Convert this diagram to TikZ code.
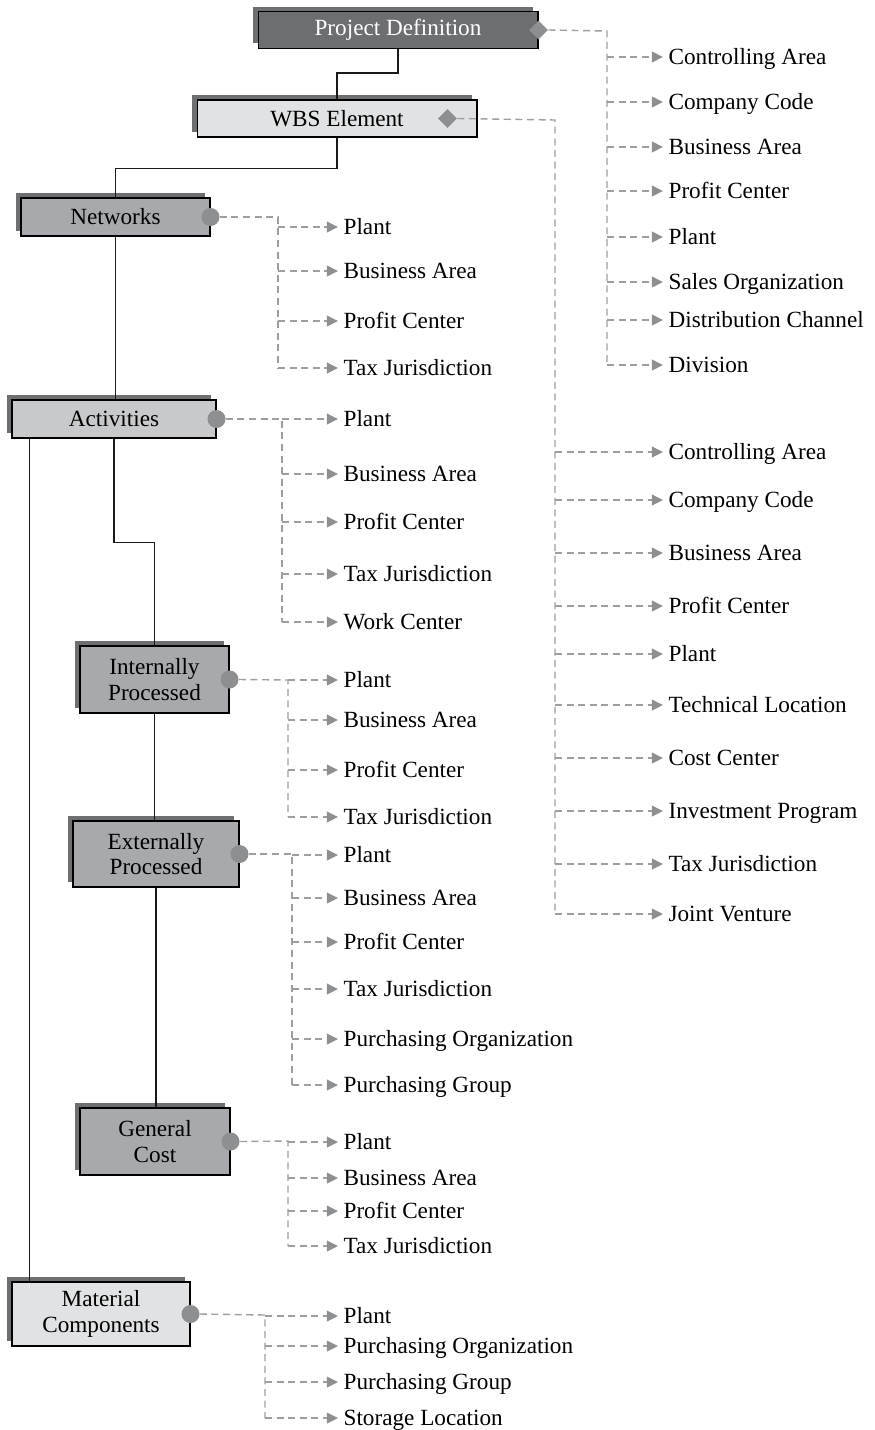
\documentclass[tikz,border=0pt]{standalone}
\usepackage{fontspec}
\setmainfont{Liberation Serif}
\usetikzlibrary{shapes.geometric, arrows.meta, shadows}
\usepackage{xcolor}

\definecolor{grigioscuro}{HTML}{6D6E71}
\definecolor{grigiomedio}{HTML}{A7A9AC}
\definecolor{grigiotenue}{HTML}{C8C9CB}
\definecolor{grigiochiaro}{HTML}{E1E2E3}
\definecolor{grigioombra}{HTML}{6E6F71}
\definecolor{grigiopunto}{HTML}{8E8F91}
\definecolor{grigiotratto}{HTML}{9D9EA0}

\begin{document}
\begin{tikzpicture}[
  x=0.02cm, y=-0.02cm,
  font=\fontsize{13.2}{14.5}\selectfont,
  linea/.style={draw=black!90, line width=0.6pt},
  tratt/.style={draw=grigiotratto, line width=0.8pt, dash pattern=on 4pt off 2.6pt},
  freccia/.style={tratt, -{Triangle[length=6.4pt,width=6.2pt,color=grigiopunto]}},
  voce/.style={anchor=west, inner xsep=3pt, inner ysep=1pt, text height=10pt, text depth=2pt},
  scatola/.style={draw=black, line width=0.6pt, align=center, inner sep=0pt,
                  general shadow={fill=grigioombra, shadow xshift=-0.1cm, shadow yshift=0.1cm}},
  pallino/.style={circle, fill=grigiopunto, inner sep=0pt, minimum size=0.36cm},
  rombo/.style={diamond, fill=grigiopunto, inner sep=0pt, minimum size=0.38cm}
]
\useasboundingbox (0,0) rectangle (875,1430);

% ---- riquadri della struttura ---------------------------------------
\node[scatola, fill=grigioscuro, text=white, minimum width=5.6cm, minimum height=0.74cm]
     (pd) at (398,30) {Project Definition};
\node[scatola, fill=grigiochiaro, minimum width=5.6cm, minimum height=0.74cm]
     (wbs) at (337,118.5) {WBS Element};
\node[scatola, fill=grigiomedio, minimum width=3.78cm, minimum height=0.76cm]
     (net) at (115.5,217) {Networks};
\node[scatola, fill=grigiotenue, minimum width=4.08cm, minimum height=0.76cm]
     (act) at (114,419) {Activities};
\node[scatola, fill=grigiomedio, minimum width=2.98cm, minimum height=1.34cm]
     (int) at (154.5,679.5) {Internally\\Processed};
\node[scatola, fill=grigiomedio, minimum width=3.32cm, minimum height=1.32cm]
     (ext) at (156,854) {Externally\\Processed};
\node[scatola, fill=grigiomedio, minimum width=3.0cm, minimum height=1.34cm]
     (gen) at (155,1141.5) {General\\Cost};
\node[scatola, fill=grigiochiaro, minimum width=3.56cm, minimum height=1.28cm]
     (mat) at (101,1314) {Material\\Components};

% ---- collegamenti gerarchici ------------------------------------------
\draw[linea] (pd.south) -- ++(0,24) -| (wbs.north);
\draw[linea] (wbs.south) -- ++(0,31) -| (net.north);
\draw[linea] (net.south) -- (net.south |- act.north);
\draw[linea] (act.south) -- ++(0,104) -| (int.north);
\draw[linea] ([xshift=0.36cm]act.south west) -- ([xshift=0.36cm]act.south west |- mat.north);
\draw[linea] (int.south) -- (int.south |- ext.north);
\draw[linea] (ext.south) -- (ext.south |- gen.north);

% ---- Project Definition: oggetti di assegnazione --------------------
\node[rombo] (pd-p) at (pd.east) {};
\coordinate (pd-t) at (607,31);
\foreach \y/\t [count=\i] in {57/Controlling Area, 102/Company Code, 147/Business Area,
    191/Profit Center, 237/Plant, 282/Sales Organization, 320/Distribution Channel, 365/Division}
  \node[voce] (pd-\i) at (663,\y) {\t};
\draw[tratt] (pd-p.east) -- (pd-t) -- (pd-t |- pd-8.west);
\foreach \i in {1,...,8}
  \draw[freccia] (pd-t |- pd-\i.west) -- (pd-\i.west);

% ---- WBS Element ------------------------------------------------------
\node[rombo] (wbs-p) at ([xshift=-0.6cm]wbs.east) {};
\coordinate (wbs-t) at (555,120);
\foreach \y/\t [count=\i] in {452/Controlling Area, 500/Company Code, 553/Business Area,
    606/Profit Center, 654/Plant, 705/Technical Location, 758/Cost Center,
    811/Investment Program, 864/Tax Jurisdiction, 914/Joint Venture}
  \node[voce] (wbs-\i) at (663,\y) {\t};
\draw[tratt] (wbs-p.east) -- (wbs-t) -- (wbs-t |- wbs-10.west);
\foreach \i in {1,...,10}
  \draw[freccia] (wbs-t |- wbs-\i.west) -- (wbs-\i.west);

% ---- Networks -----------------------------------------------------------
\node[pallino] (net-p) at (net.east) {};
\coordinate (net-t) at (278,217);
\foreach \y/\t [count=\i] in {227/Plant, 271/Business Area, 321/Profit Center, 368/Tax Jurisdiction}
  \node[voce] (net-\i) at (338,\y) {\t};
\draw[tratt] (net-p.east) -- (net-t) -- (net-t |- net-4.west);
\foreach \i in {1,...,4}
  \draw[freccia] (net-t |- net-\i.west) -- (net-\i.west);

% ---- Activities ---------------------------------------------------------
\node[pallino] (act-p) at (act.east) {};
\coordinate (act-t) at (282,419);
\foreach \y/\t [count=\i] in {419/Plant, 474/Business Area, 522/Profit Center,
    574/Tax Jurisdiction, 622/Work Center}
  \node[voce] (act-\i) at (338,\y) {\t};
\draw[tratt] (act-p.east) -- (act-t) -- (act-t |- act-5.west);
\foreach \i in {1,...,5}
  \draw[freccia] (act-t |- act-\i.west) -- (act-\i.west);

% ---- Internally Processed -----------------------------------------------
\node[pallino] (int-p) at (int.east) {};
\coordinate (int-t) at (288,680);
\foreach \y/\t [count=\i] in {680/Plant, 720/Business Area, 770/Profit Center, 817/Tax Jurisdiction}
  \node[voce] (int-\i) at (338,\y) {\t};
\draw[tratt] (int-p.east) -- (int-t) -- (int-t |- int-4.west);
\foreach \i in {1,...,4}
  \draw[freccia] (int-t |- int-\i.west) -- (int-\i.west);

% ---- Externally Processed -----------------------------------------------
\node[pallino] (ext-p) at (ext.east) {};
\coordinate (ext-t) at (292,854);
\foreach \y/\t [count=\i] in {855/Plant, 898/Business Area, 942/Profit Center,
    989/Tax Jurisdiction, 1039/Purchasing Organization, 1085/Purchasing Group}
  \node[voce] (ext-\i) at (338,\y) {\t};
\draw[tratt] (ext-p.east) -- (ext-t) -- (ext-t |- ext-6.west);
\foreach \i in {1,...,6}
  \draw[freccia] (ext-t |- ext-\i.west) -- (ext-\i.west);

% ---- General Cost -------------------------------------------------------
\node[pallino] (gen-p) at (gen.east) {};
\coordinate (gen-t) at (288,1141);
\foreach \y/\t [count=\i] in {1142/Plant, 1178/Business Area, 1211/Profit Center, 1246/Tax Jurisdiction}
  \node[voce] (gen-\i) at (338,\y) {\t};
\draw[tratt] (gen-p.east) -- (gen-t) -- (gen-t |- gen-4.west);
\foreach \i in {1,...,4}
  \draw[freccia] (gen-t |- gen-\i.west) -- (gen-\i.west);

% ---- Material Components ------------------------------------------------
\node[pallino] (mat-p) at (mat.east) {};
\coordinate (mat-t) at (265,1315);
\foreach \y/\t [count=\i] in {1316/Plant, 1346/Purchasing Organization, 1382/Purchasing Group,
    1418/Storage Location}
  \node[voce] (mat-\i) at (338,\y) {\t};
\draw[tratt] (mat-p.east) -- (mat-t) -- (mat-t |- mat-4.west);
\foreach \i in {1,...,4}
  \draw[freccia] (mat-t |- mat-\i.west) -- (mat-\i.west);

\end{tikzpicture}
\end{document}
